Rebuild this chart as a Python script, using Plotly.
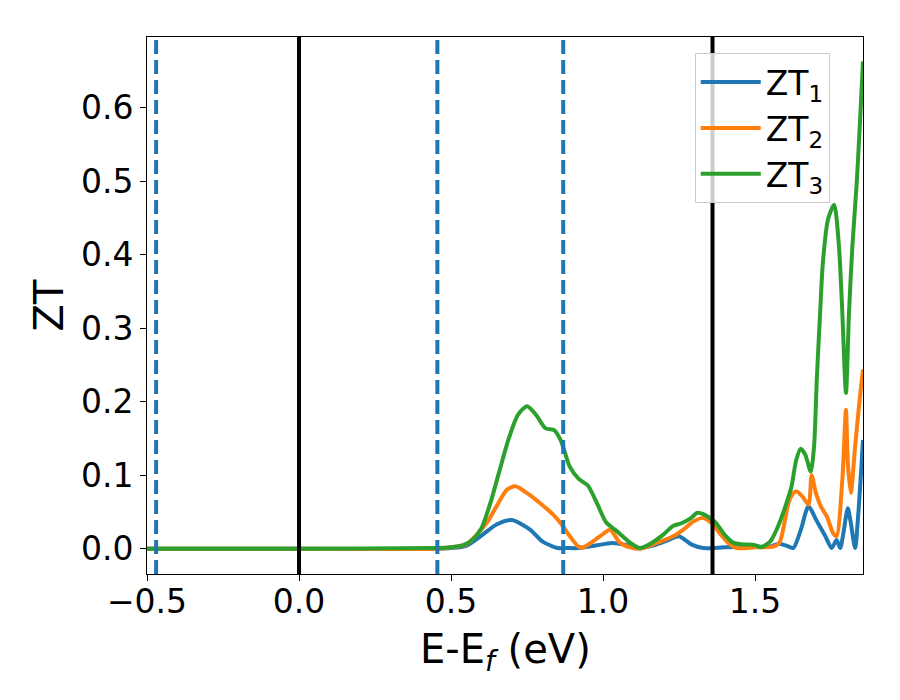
import plotly.graph_objects as go

# ---- data ----
e_zt1 = [-0.5, 0.0, 0.45, 0.50, 0.55, 0.60, 0.65, 0.70, 0.76, 0.80, 0.85, 0.88, 0.92, 0.97,
         1.03, 1.08, 1.12, 1.17, 1.21, 1.25, 1.29, 1.33, 1.40, 1.50, 1.55, 1.58, 1.61,
         1.626, 1.65, 1.676, 1.70, 1.73, 1.752, 1.768, 1.78, 1.79, 1.805, 1.815, 1.829,
         1.84, 1.855]
zt1 = [0.0, 0.0, 0.0, 0.001, 0.004, 0.018, 0.033, 0.039, 0.026, 0.010, 0.001, 0.001, 0.001, 0.004,
       0.008, 0.005, 0.001, 0.005, 0.011, 0.017, 0.006, 0.001, 0.002, 0.003, 0.003, 0.007, 0.003,
       0.001, 0.025, 0.058, 0.040, 0.018, 0.001, 0.012, 0.001, 0.020, 0.055, 0.035, 0.001,
       0.050, 0.148]

e_zt2 = [-0.5, 0.0, 0.45, 0.50, 0.55, 0.617, 0.65, 0.683, 0.711, 0.749, 0.793, 0.837, 0.864,
         0.891, 0.919, 0.935, 0.99, 1.023, 1.056, 1.089, 1.12, 1.177, 1.231, 1.264, 1.297,
         1.33, 1.357, 1.384, 1.412, 1.44, 1.50, 1.56, 1.58, 1.61, 1.626, 1.637, 1.656, 1.676,
         1.686, 1.70, 1.716, 1.736, 1.757, 1.768, 1.787, 1.799, 1.805, 1.815, 1.829, 1.845,
         1.855]
zt2 = [0.0, 0.0, 0.0, 0.002, 0.006, 0.035, 0.058, 0.080, 0.085, 0.076, 0.062, 0.046, 0.033,
       0.017, 0.003, 0.002, 0.017, 0.026, 0.008, 0.002, 0.0, 0.008, 0.017, 0.026, 0.037,
       0.042, 0.035, 0.021, 0.008, 0.001, 0.002, 0.003, 0.008, 0.062, 0.076, 0.078, 0.071, 0.060,
       0.100, 0.076, 0.058, 0.044, 0.021, 0.017, 0.094, 0.189, 0.117, 0.076, 0.139, 0.207,
       0.244]

e_zt3 = [-0.5, 0.0, 0.45, 0.50, 0.54, 0.57, 0.60, 0.63, 0.66, 0.69, 0.72, 0.75, 0.78, 0.81,
         0.84, 0.86, 0.87, 0.89, 0.92, 0.95, 0.98, 1.01, 1.045, 1.09, 1.12, 1.16, 1.20, 1.23,
         1.26, 1.29, 1.31, 1.33, 1.35, 1.37, 1.40, 1.43, 1.46, 1.50, 1.52, 1.55, 1.575, 1.60,
         1.62, 1.635, 1.65, 1.665, 1.683, 1.694, 1.703, 1.714, 1.723, 1.74, 1.76, 1.776,
         1.787, 1.799, 1.809, 1.82, 1.835, 1.845, 1.855]
zt3 = [0.0, 0.0, 0.001, 0.002, 0.005, 0.012, 0.028, 0.063, 0.107, 0.150, 0.182, 0.194, 0.182,
       0.164, 0.161, 0.148, 0.137, 0.112, 0.095, 0.086, 0.062, 0.036, 0.024, 0.008, 0.001,
       0.008, 0.020, 0.031, 0.035, 0.042, 0.049, 0.047, 0.042, 0.036, 0.019, 0.008, 0.006,
       0.005, 0.002, 0.010, 0.030, 0.058, 0.085, 0.120, 0.136, 0.128, 0.105, 0.139, 0.230,
       0.321, 0.389, 0.448, 0.468, 0.411, 0.321, 0.212, 0.321, 0.411, 0.502, 0.580, 0.663]

solid_lines = [0.0, 1.36]
dashed_lines = [-0.47, 0.455, 0.869]

x_ticks = [-0.5, 0.0, 0.5, 1.0, 1.5]
x_ticklabels = ["\u22120.5", "0.0", "0.5", "1.0", "1.5"]
y_ticks = [0.0, 0.1, 0.2, 0.3, 0.4, 0.5, 0.6]
y_ticklabels = ["0.0", "0.1", "0.2", "0.3", "0.4", "0.5", "0.6"]

FONT = "DejaVu Sans"

fig = go.Figure()
series = [
    (e_zt1, zt1, "ZT<sub>1</sub>", "#1f77b4"),
    (e_zt2, zt2, "ZT<sub>2</sub>", "#ff7f0e"),
    (e_zt3, zt3, "ZT<sub>3</sub>", "#2ca02c"),
]
for xs, ys, name, col in series:
    fig.add_trace(go.Scatter(x=xs, y=ys, mode="lines", name=name,
                             line=dict(color=col, width=4, shape="spline", smoothing=0.7)))

for xv in dashed_lines:
    fig.add_shape(type="line", xref="x", yref="paper", x0=xv, x1=xv, y0=0, y1=1,
                  line=dict(color="#1f77b4", width=4, dash="14px,6px"), layer="above")
for xv in solid_lines:
    fig.add_shape(type="line", xref="x", yref="paper", x0=xv, x1=xv, y0=0, y1=1,
                  line=dict(color="black", width=4), layer="above")

# x-axis title placed as paper annotation for exact vertical position
fig.add_annotation(text="E-E<sub><i>f</i></sub> (eV)", xref="paper", yref="paper",
                   x=0.5, y=-(652 - 574) / 537, xanchor="center", yanchor="middle",
                   showarrow=False, font=dict(size=40, family=FONT, color="black"))

fig.update_layout(
    width=892, height=692,
    margin=dict(l=139, r=37, t=29, b=126),
    paper_bgcolor="white", plot_bgcolor="white",
    font=dict(family=FONT, size=33, color="black"),
    showlegend=True,
    legend=dict(x=0.765, y=0.97, xanchor="left", yanchor="top",
                bgcolor="rgba(255,255,255,0.8)", bordercolor="#cccccc", borderwidth=1,
                font=dict(family=FONT, size=33, color="black"),
                itemwidth=60, tracegroupgap=0),
)
fig.update_xaxes(range=[-0.5, 1.855], tickmode="array", tickvals=x_ticks, ticktext=x_ticklabels,
                 ticks="outside", ticklen=6, tickwidth=1, tickcolor="black",
                 showline=True, linecolor="black", linewidth=1, mirror=True,
                 showgrid=False, zeroline=False, ticklabelstandoff=-8,
                 tickfont=dict(size=33, family=FONT))
fig.update_yaxes(range=[-0.0343, 0.696], tickmode="array", tickvals=y_ticks, ticktext=y_ticklabels,
                 ticks="outside", ticklen=6, tickwidth=1, tickcolor="black",
                 showline=True, linecolor="black", linewidth=1, mirror=True,
                 showgrid=False, zeroline=False,
                 title=dict(text="ZT", font=dict(size=40, family=FONT), standoff=4),
                 tickfont=dict(size=33, family=FONT))

fig.write_html("out.html")
